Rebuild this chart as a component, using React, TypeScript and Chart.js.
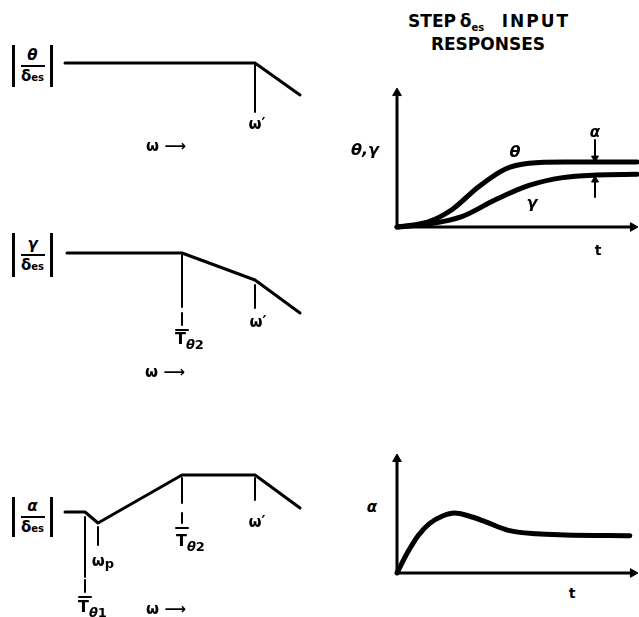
import React, { useEffect, useRef } from "react";
import { Chart, registerables } from "chart.js";

Chart.register(...registerables);

// ---------- Bode asymptote sketches (log-frequency units, log-magnitude units) ----------
const wStart = 0.5;
const wT1 = 2.5; // 1/Tθ1
const wP = 3.8; // ωp
const wT2 = 12.2; // 1/Tθ2
const wPrime = 19.5; // ω'
const wEnd = 24;

const thetaBodeW = [wStart, wPrime, wEnd];
const thetaBodeMag = [0, 0, -3.2];

const gammaBodeW = [0.7, wT2, wPrime, wEnd];
const gammaBodeMag = [0, 0, -2.7, -6.0];

const alphaBodeW = [wStart, wT1, wP, wT2, wPrime, wEnd];
const alphaBodeMag = [0, 0, -1.1, 3.7, 3.7, 0.4];

// drop lines under break points: [frequency, from, to]
const thetaDrops = [[wPrime, -0.2, -4.9]];
const gammaDrops = [
  [wT2, -0.2, -5.4],
  [wT2, -6.0, -7.2],
  [wPrime, -3.2, -5.5],
];
const gammaBars = [[wT2, -7.7]];
const alphaDrops = [
  [wT1, -0.5, -6.5],
  [wT1, -6.8, -8.0],
  [wP, -1.5, -3.3],
  [wT2, 3.4, 0.9],
  [wT2, -0.1, -1.1],
  [wPrime, 3.4, 1.2],
];
const alphaBars = [
  [wT1, -8.5],
  [wT2, -1.6],
];

// ---------- Step δes input responses (time units, response units) ----------
const thetaT = [0, 1.3, 2.3, 3.4, 4.5, 5.5, 7.0, 10];
const thetaResp = [0, 0.08, 0.27, 0.62, 0.89, 0.98, 1.0, 1.0];
const gammaT = [0, 1.3, 2.7, 4.1, 5.5, 6.9, 8.3, 10];
const gammaResp = [0, 0.045, 0.16, 0.42, 0.64, 0.76, 0.8, 0.81];
const alphaT = [0, 0.45, 0.9, 1.35, 1.9, 2.4, 3.0, 3.6, 4.6, 5.8, 7.0, 9.7];
const alphaResp = [0, 0.55, 1.0, 1.3, 1.5, 1.58, 1.5, 1.37, 1.13, 1.03, 1.0, 0.98];

const tMark = 8.25; // where the α gap is marked
const tAxisEnd = 9.85;

const FONT = "'DejaVu Sans', 'Liberation Sans', sans-serif";

// ---------- dataset helpers ----------
const line = (xs: number[], ys: number[], width = 3, smooth = false) => ({
  data: xs.map((x, i) => ({ x, y: ys[i] })),
  borderColor: "#000",
  borderWidth: width,
  pointRadius: 0,
  fill: false,
  clip: false,
  tension: 0,
  cubicInterpolationMode: smooth ? "monotone" : "default",
  borderCapStyle: "round",
  borderJoinStyle: "round",
});
const seg = (x1: number, y1: number, x2: number, y2: number, width = 2) =>
  line([x1, x2], [y1, y2], width);
const arrowHead = (x: number, y: number, rotation: number, r = 5) => ({
  data: [{ x, y }],
  showLine: false,
  pointStyle: "triangle",
  pointRadius: r,
  pointRotation: rotation,
  pointBackgroundColor: "#000",
  pointBorderColor: "#000",
  pointBorderWidth: 1,
  clip: false,
});
const drops = (list: number[][]) => list.map(([w, a, b]) => seg(w, a, w, b, 2));
const bars = (list: number[][]) => list.map(([w, m]) => seg(w - 0.6, m, w + 0.6, m, 2));

type Box = { x: number; y: number; w: number; h: number };

function PanelChart({ box, xr, yr, datasets }: { box: Box; xr: number[]; yr: number[]; datasets: any[] }) {
  const ref = useRef<HTMLCanvasElement>(null);
  useEffect(() => {
    const chart = new Chart(ref.current as HTMLCanvasElement, {
      type: "line",
      data: { datasets } as any,
      options: {
        animation: false,
        responsive: false,
        maintainAspectRatio: false,
        events: [],
        layout: { padding: 0, autoPadding: false },
        plugins: { legend: { display: false }, tooltip: { enabled: false } },
        scales: {
          x: { type: "linear", min: xr[0], max: xr[1], display: false },
          y: { type: "linear", min: yr[0], max: yr[1], display: false },
        },
      } as any,
    });
    return () => chart.destroy();
  }, []);
  return (
    <canvas
      ref={ref}
      width={box.w}
      height={box.h}
      style={{ position: "absolute", left: box.x, top: box.y, width: box.w, height: box.h }}
    />
  );
}

function Txt({ x, y, size = 15, italic = false, children, ls = 0 }: any) {
  return (
    <div
      style={{
        position: "absolute",
        left: x,
        top: y,
        transform: "translate(-50%,-50%)",
        fontFamily: FONT,
        fontWeight: "bold",
        fontSize: size,
        fontStyle: italic ? "italic" : "normal",
        lineHeight: 1,
        whiteSpace: "nowrap",
        letterSpacing: ls,
      }}
    >
      {children}
    </div>
  );
}

function MagLabel({ top, height, num }: any) {
  return (
    <div
      style={{
        position: "absolute",
        left: 12,
        top,
        width: 41,
        height,
        borderLeft: "3px solid #000",
        borderRight: "3px solid #000",
        boxSizing: "border-box",
        display: "flex",
        flexDirection: "column",
        alignItems: "center",
        justifyContent: "center",
        fontFamily: FONT,
        fontWeight: "bold",
      }}
    >
      <div style={{ fontSize: 15, fontStyle: "italic", lineHeight: 1, marginBottom: 2 }}>{num}</div>
      <div style={{ width: 24, borderTop: "2px solid #000" }} />
      <div style={{ fontSize: 15, lineHeight: 1, marginTop: 2 }}>
        δ<span style={{ fontSize: 10 }}>es</span>
      </div>
    </div>
  );
}

function TLabel({ x, capTop, sub }: any) {
  return (
    <div
      style={{
        position: "absolute",
        left: x - 6,
        top: capTop - 2,
        fontFamily: FONT,
        fontWeight: "bold",
        fontSize: 16,
        lineHeight: 1,
        whiteSpace: "nowrap",
      }}
    >
      T
      <span style={{ fontSize: 13, position: "relative", top: 5 }}>
        <i>θ</i>
        {sub}
      </span>
    </div>
  );
}

const bodeX = [0, 25];

export default function App() {
  return (
    <div
      style={{
        position: "fixed",
        left: 0,
        top: 0,
        width: 639,
        height: 617,
        overflow: "hidden",
        background: "#fff",
      }}
    >
      {/* Panel 1: |θ/δes| */}
      <PanelChart
        box={{ x: 60, y: 40, w: 250, h: 90 }}
        xr={bodeX}
        yr={[-6.7, 2.3]}
        datasets={[line(thetaBodeW, thetaBodeMag, 3), ...drops(thetaDrops)]}
      />
      {/* Panel 2: |γ/δes| */}
      <PanelChart
        box={{ x: 60, y: 230, w: 250, h: 110 }}
        xr={bodeX}
        yr={[-8.7, 2.3]}
        datasets={[line(gammaBodeW, gammaBodeMag, 3), ...drops(gammaDrops), ...bars(gammaBars)]}
      />
      {/* Panel 3: |α/δes| */}
      <PanelChart
        box={{ x: 60, y: 460, w: 250, h: 140 }}
        xr={bodeX}
        yr={[-8.8, 5.2]}
        datasets={[line(alphaBodeW, alphaBodeMag, 3), ...drops(alphaDrops), ...bars(alphaBars)]}
      />
      {/* Step responses θ, γ */}
      <PanelChart
        box={{ x: 390, y: 80, w: 249, h: 155 }}
        xr={[-0.2917, 10.083]}
        yr={[-0.123, 2.2615]}
        datasets={[
          seg(0, 0, 0, 2.0, 3),
          arrowHead(0, 2.06, 0, 5),
          seg(0, 0, tAxisEnd, 0, 3),
          arrowHead(9.83, 0, 90, 5),
          line(thetaT, thetaResp, 5, true),
          line(gammaT, gammaResp, 5, true),
          seg(tMark, 1.34, tMark, 1.08, 2),
          arrowHead(tMark, 1.06, 180, 4),
          seg(tMark, 0.46, tMark, 0.7, 2),
          arrowHead(tMark, 0.723, 0, 4),
        ]}
      />
      {/* Step response α */}
      <PanelChart
        box={{ x: 390, y: 445, w: 249, h: 135 }}
        xr={[-0.2917, 10.083]}
        yr={[-0.184, 3.368]}
        datasets={[
          seg(0, 0, 0, 2.95, 3),
          arrowHead(0, 3.0, 0, 5),
          seg(0, 0, tAxisEnd, 0, 3),
          arrowHead(9.83, 0, 90, 5),
          line(alphaT, alphaResp, 5, true),
        ]}
      />

      {/* Labels panel 1 */}
      <MagLabel top={45} height={42} num="θ" />
      <Txt x={257} y={124}>ω′</Txt>
      <Txt x={166} y={146}>ω ⟶</Txt>

      {/* Labels panel 2 */}
      <MagLabel top={233} height={44} num="γ" />
      <TLabel x={181} capTop={333} sub="2" />
      <Txt x={258} y={322}>ω′</Txt>
      <Txt x={165} y={372}>ω ⟶</Txt>

      {/* Labels panel 3 */}
      <MagLabel top={497} height={40} num="α" />
      <Txt x={103} y={561}>
        ω<span style={{ fontSize: 13, position: "relative", top: 2 }}>p</span>
      </Txt>
      <TLabel x={182} capTop={535} sub="2" />
      <Txt x={257} y={522}>ω′</Txt>
      <TLabel x={84} capTop={601} sub="1" />
      <Txt x={166} y={609}>ω ⟶</Txt>

      {/* Step response titles and labels */}
      <Txt x={432} y={21} size={17}>STEP</Txt>
      <Txt x={472} y={21} size={17}>
        δ<span style={{ fontSize: 10, position: "relative", top: 4 }}>es</span>
      </Txt>
      <Txt x={536} y={21} size={17} ls={2}>INPUT</Txt>
      <Txt x={488} y={44} size={17}>RESPONSES</Txt>

      <Txt x={365} y={150} size={16} italic>θ,γ</Txt>
      <Txt x={515} y={152} size={16} italic>θ</Txt>
      <Txt x={532} y={203} size={16} italic>γ</Txt>
      <Txt x={595} y={132} size={15} italic>α</Txt>
      <Txt x={598} y={250} size={14}>t</Txt>

      <Txt x={372} y={507} size={15} italic>α</Txt>
      <Txt x={572} y={593} size={14}>t</Txt>
    </div>
  );
}
